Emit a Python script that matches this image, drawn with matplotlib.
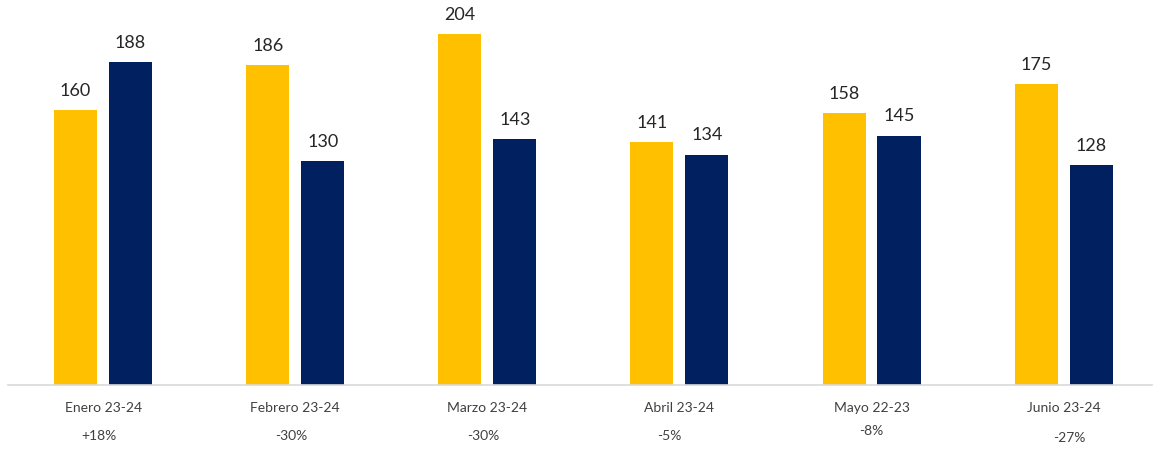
import matplotlib
matplotlib.use("Agg")
import matplotlib.pyplot as plt
import numpy as np

# values
months = ["Enero 23-24", "Febrero 23-24", "Marzo 23-24", "Abril 23-24", "Mayo 22-23", "Junio 23-24"]
prev_year = [160, 186, 204, 141, 158, 175]
curr_year = [188, 130, 143, 134, 145, 128]
changes = ["+18%", "-30%", "-30%", "-5%", "-8%", "-27%"]
change_dx = [-0.02, -0.02, -0.02, -0.05, 0.0, 0.03]   # small offsets as in the original
change_dy = [0, 0, 0, 0, 5, -2]

YELLOW = "#FFC000"
NAVY = "#002060"

plt.rcParams["font.family"] = ["Lato", "DejaVu Sans"]

fig = plt.figure(figsize=(11.54, 4.5), dpi=100)
ax = fig.add_axes([8 / 1154, 65 / 450, 1144 / 1154, 385 / 450])

x = np.arange(len(months))
w = 0.224
off = 0.143
b1 = ax.bar(x - off, prev_year, w, color=YELLOW)
b2 = ax.bar(x + off, curr_year, w, color=NAVY)

for bars in (b1, b2):
    for b in bars:
        ax.annotate(str(int(b.get_height())), (b.get_x() + b.get_width() / 2, b.get_height()),
                    xytext=(0, 8), textcoords="offset points", ha="center", va="bottom",
                    fontsize=13, color="#262626")

ax.set_xlim(-0.495, 5.46)
ax.set_ylim(0, 385 / 1.72)
ax.set_xticks(x)
ax.set_xticklabels(months, fontsize=10, color="#404040")
ax.tick_params(axis="x", length=0, pad=12)
ax.set_yticks([])
for s in ("top", "right", "left"):
    ax.spines[s].set_visible(False)
ax.spines["bottom"].set_color("#D9D9D9")
ax.spines["bottom"].set_linewidth(1.2)

for i, c in enumerate(changes):
    ax.annotate(c, (x[i] + change_dx[i], 0), xytext=(0, -51 + change_dy[i]),
                textcoords="offset pixels", ha="center", va="center",
                fontsize=10, color="#404040", annotation_clip=False)

fig.savefig("out.png", dpi=100)
